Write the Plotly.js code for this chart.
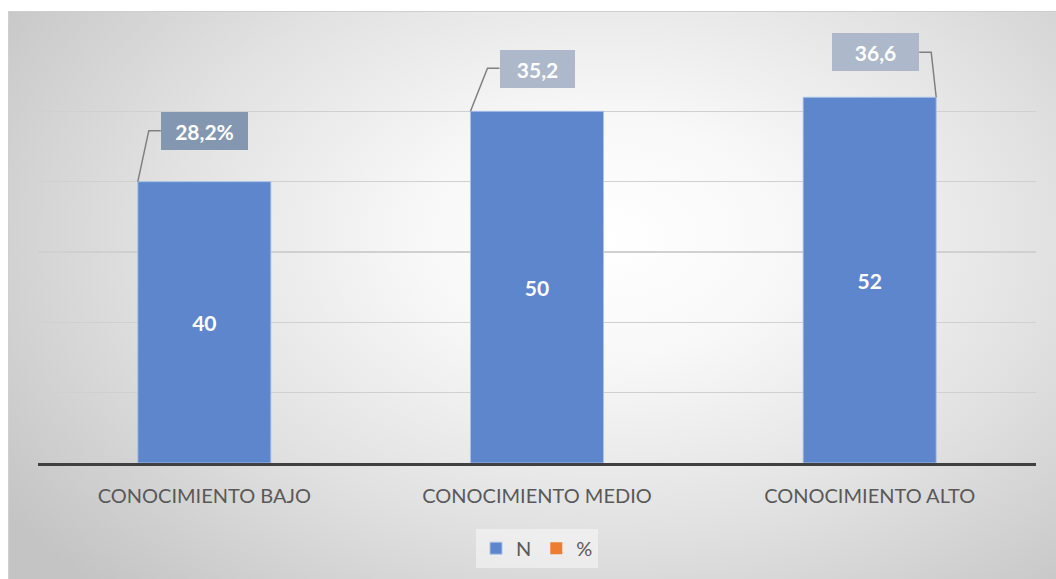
<!DOCTYPE html>
<html>
<head>
<meta charset="utf-8">
<script src="https://cdn.plot.ly/plotly-3.0.1.min.js"></script>
<style>
  html, body { margin: 0; padding: 0; background: #ffffff; }
  #wrap { position: relative; width: 1056px; height: 579px; overflow: hidden; }
  #panel {
    position: absolute; left: 8px; top: 11px; width: 1048px; height: 568px;
    box-sizing: border-box; border-left: 1px solid #cfcfcf; border-top: 1px solid #cfcfcf;
    background: radial-gradient(ellipse 70% 85% at 57% 40%, #ffffff 0%, #f8f8f8 25%, #e2e2e2 60%, #c4c4c4 100%);
  }
  #chart { position: absolute; left: 0; top: 0; width: 1056px; height: 579px; }
</style>
</head>
<body>
<div id="wrap">
  <div id="panel"></div>
  <div id="chart"></div>
</div>
<script>
// Knowledge level categories and their counts / percentages
const categories = ['CONOCIMIENTO BAJO', 'CONOCIMIENTO MEDIO', 'CONOCIMIENTO ALTO'];
const countN = [40, 50, 52];
const percent = [28.2, 35.2, 36.6];
const percentLabels = ['28,2%', '35,2', '36,6'];

// Callout styling per category
const calloutStyle = [
  { bg: '#8497b0', w: 79, dx: 0.5, dy: 51, leader: [[0, 0], [11, 51], [23, 51]] },
  { bg: '#adb9ca', w: 67, dx: 0,   dy: 42, leader: [[0, 0], [17, 43], [29, 43]] },
  { bg: '#adb9ca', w: 79, dx: 6,   dy: 45, leader: [[0, 0], [-5, 45], [-17, 45]] }
];
const barHalf = 0.2;
const fontFam = 'Lato, "Open Sans", "Liberation Sans", sans-serif';

const traceN = {
  type: 'bar', name: 'N', x: categories, y: countN,
  width: 2 * barHalf,
  marker: { color: '#5e86cc', line: { color: 'rgba(170,195,235,0.9)', width: 1 } },
  text: countN.map(String), textposition: 'inside', insidetextanchor: 'middle',
  textangle: 0,
  textfont: { family: fontFam, size: 21, color: '#ffffff', weight: 'bold' },
  hoverinfo: 'x+y'
};

const tracePct = {
  type: 'bar', name: '%', x: categories, y: percent,
  width: 0, marker: { color: '#ed7d31', line: { width: 0 } },
  hoverinfo: 'x+y'
};

const annotations = categories.map((c, i) => ({
  x: c, y: countN[i], xref: 'x', yref: 'y',
  text: '<b>' + percentLabels[i] + '</b>', showarrow: false,
  xshift: calloutStyle[i].dx, yshift: calloutStyle[i].dy,
  bgcolor: calloutStyle[i].bg, width: calloutStyle[i].w, height: 30,
  borderpad: 4, borderwidth: 0,
  font: { family: fontFam, size: 21, color: '#ffffff' }
}));

// Leader lines run from the bar's top corner to the callout box
const shapes = categories.map((c, i) => {
  const pts = calloutStyle[i].leader;
  const corner = i === 2 ? i + barHalf : i - barHalf;
  return {
    type: 'path', xref: 'x', yref: 'y',
    xsizemode: 'pixel', ysizemode: 'pixel',
    xanchor: corner, yanchor: countN[i],
    path: 'M' + pts.map(p => p[0] + ',' + p[1]).join(' L'),
    line: { color: '#808080', width: 1.5 }, layer: 'above'
  };
});

const layout = {
  width: 1056, height: 579,
  paper_bgcolor: 'rgba(0,0,0,0)', plot_bgcolor: 'rgba(0,0,0,0)',
  margin: { l: 38, r: 20, t: 41, b: 115 },
  barmode: 'overlay',
  showlegend: true,
  legend: {
    orientation: 'h', x: 0.5, xanchor: 'center', y: -0.199, yanchor: 'middle',
    bgcolor: 'rgba(255,255,255,0.45)',
    font: { family: fontFam, size: 20, color: '#595959' },
    itemwidth: 30, traceorder: 'normal'
  },
  xaxis: {
    type: 'category', showgrid: false, zeroline: false,
    showline: true, linecolor: '#404040', linewidth: 3,
    ticks: '', ticklabelstandoff: 13,
    tickfont: { family: fontFam, size: 20, color: '#595959' },
    fixedrange: true
  },
  yaxis: {
    range: [0, 60], dtick: 10, showticklabels: false,
    gridcolor: '#d0d0d0', gridwidth: 1.3, zeroline: false, showline: false,
    fixedrange: true
  },
  annotations: annotations,
  shapes: shapes
};

Plotly.newPlot('chart', [traceN, tracePct], layout, { displayModeBar: false, staticPlot: true });
</script>
</body>
</html>
